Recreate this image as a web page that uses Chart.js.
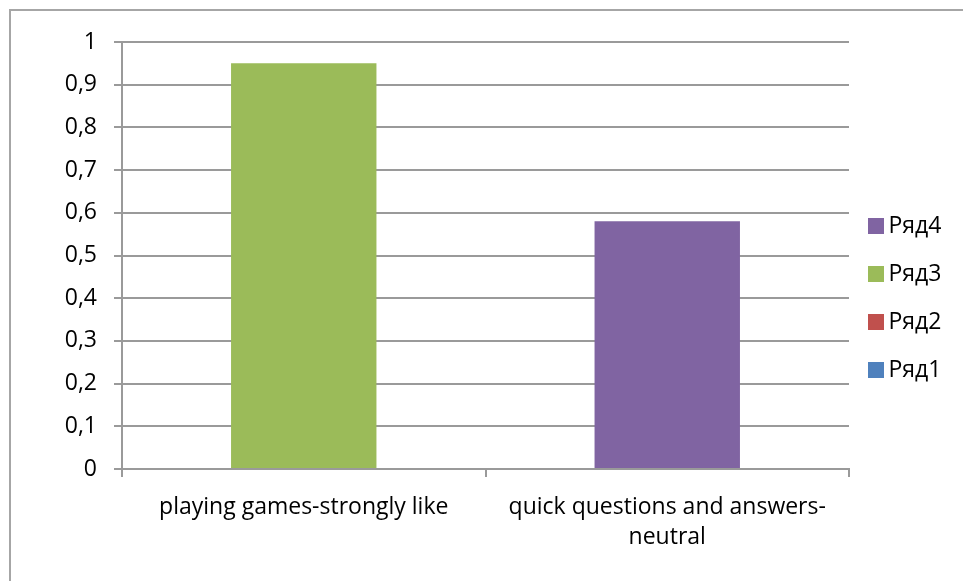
<!DOCTYPE html>
<html>
<head>
<meta charset="utf-8">
<script src="https://cdn.jsdelivr.net/npm/chart.js@4/dist/chart.umd.min.js"></script>
<style>
  html, body { margin: 0; padding: 0; background: #ffffff; overflow: hidden; }
  #wrap { position: relative; width: 963px; height: 581px; }
  #frame {
    position: absolute; left: 9px; top: 9px; width: 1100px; height: 700px;
    border-left: 2px solid #a6a6a6; border-top: 2px solid #a6a6a6;
    box-sizing: border-box; pointer-events: none;
  }
  #chart { position: absolute; left: 0; top: 0; }
</style>
</head>
<body>
<div id="wrap">
  <div id="frame"></div>
  <canvas id="chart" width="963" height="581"></canvas>
</div>
<script>
// Categories (second label wraps onto two lines)
const categories = [
  'playing games-strongly like',
  ['quick questions and answers-', 'neutral']
];

// Series values, one per category
const seriesNames = ['Ряд1', 'Ряд2', 'Ряд3', 'Ряд4'];
const ryad1 = [0, 0];
const ryad2 = [0, 0];
const ryad3 = [0.95, 0];
const ryad4 = [0, 0.58];

// Value-axis tick labels (decimal comma)
const yTickLabels = ['0', '0,1', '0,2', '0,3', '0,4', '0,5', '0,6', '0,7', '0,8', '0,9', '1'];

const seriesColors = ['#4F81BD', '#C0504D', '#9BBB59', '#8064A2'];
const axisGray = '#9a9a9a';
const fontFamily = '"Open Sans", "DejaVu Sans", sans-serif';
const LEGEND_WIDTH = 114;

const seriesValues = [ryad1, ryad2, ryad3, ryad4];
const datasets = seriesNames.map((name, i) => ({
  label: name,
  data: seriesValues[i],
  backgroundColor: seriesColors[i],
  borderWidth: 0,
  categoryPercentage: 1.0,
  barPercentage: 0.4
}));

// Keeps the legend column at a fixed width so the plot keeps its right edge
const fixedLegendWidth = {
  id: 'fixedLegendWidth',
  beforeLayout(chart) {
    const lg = chart.legend;
    if (lg && !lg.__fixedWidth) {
      const fit = lg.fit.bind(lg);
      lg.fit = function () {
        fit();
        this.width = LEGEND_WIDTH;
      };
      lg.__fixedWidth = true;
    }
  }
};

new Chart(document.getElementById('chart'), {
  type: 'bar',
  data: { labels: categories, datasets },
  plugins: [fixedLegendWidth],
  options: {
    responsive: false,
    animation: false,
    layout: { padding: { left: 10, top: 42, right: 0, bottom: 28 } },
    plugins: {
      tooltip: { enabled: false },
      legend: {
        position: 'right',
        reverse: true,
        labels: {
          color: '#000000',
          usePointStyle: true,
          pointStyle: 'rect',
          boxWidth: 2,
          boxHeight: 16,
          padding: 26,
          font: { family: fontFamily, size: 23, lineHeight: 22 / 23 },
          generateLabels(chart) {
            return chart.data.datasets.map((ds, i) => ({
              text: [ds.label],
              fillStyle: ds.backgroundColor,
              strokeStyle: ds.backgroundColor,
              lineWidth: 0,
              pointStyle: 'rect',
              hidden: false,
              datasetIndex: i,
              fontColor: '#000000'
            }));
          }
        }
      }
    },
    scales: {
      x: {
        stacked: true,
        offset: true,
        afterFit(scale) { scale.height = 581 - 28 - 469; },
        grid: {
          display: true,
          offset: true,
          drawOnChartArea: false,
          drawTicks: true,
          tickLength: 8,
          color: axisGray,
          lineWidth: 2
        },
        border: { display: true, color: axisGray, width: 2 },
        ticks: {
          color: '#000000',
          padding: 15,
          maxRotation: 0,
          autoSkip: false,
          font: { family: fontFamily, size: 23, lineHeight: 30 / 23 }
        }
      },
      y: {
        stacked: true,
        min: 0,
        max: 1,
        afterFit(scale) { scale.width = 112; },
        grid: {
          color: axisGray,
          lineWidth: 2,
          drawTicks: true,
          tickLength: 8
        },
        border: { display: true, color: axisGray, width: 2 },
        ticks: {
          stepSize: 0.1,
          color: '#000000',
          padding: 17,
          font: { family: fontFamily, size: 23 },
          callback: (value, index) => yTickLabels[index]
        }
      }
    }
  }
});
</script>
</body>
</html>
